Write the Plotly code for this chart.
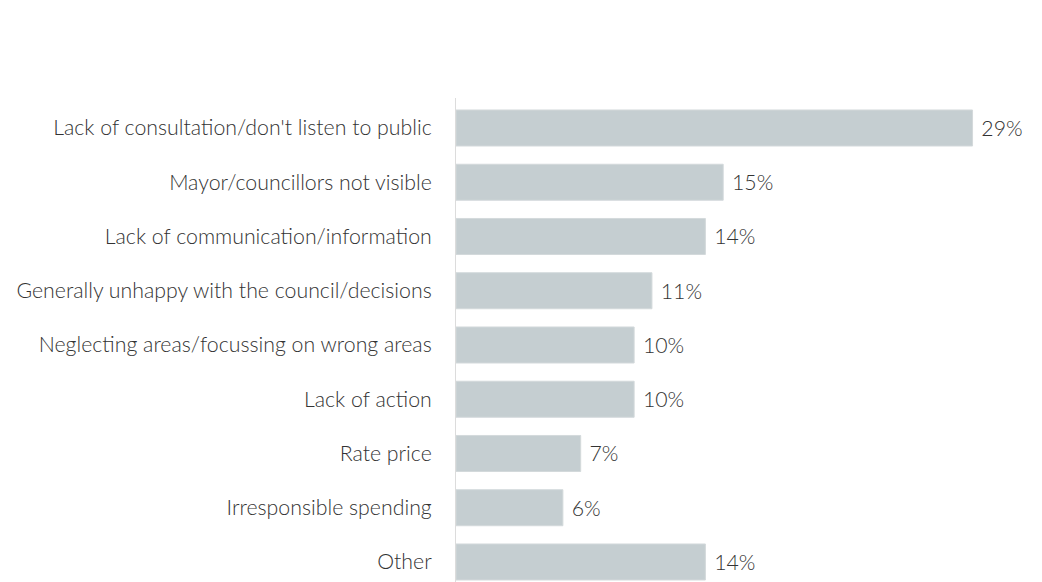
import plotly.graph_objects as go

categories = [
    "Lack of consultation/don't listen to public",
    "Mayor/councillors not visible",
    "Lack of communication/information",
    "Generally unhappy with the council/decisions",
    "Neglecting areas/focussing on wrong areas",
    "Lack of action",
    "Rate price",
    "Irresponsible spending",
    "Other",
]
values = [29, 15, 14, 11, 10, 10, 7, 6, 14]
value_labels = [f"{v}%" for v in values]

TEXT_FONT = dict(size=21.3, color="#333333", family="Lato", weight=300)

fig = go.Figure(
    go.Bar(
        x=values,
        y=categories,
        orientation="h",
        marker=dict(color="#c5ced1", line=dict(color="#d3d9db", width=1)),
        text=[" " + t for t in value_labels],
        textposition="outside",
        cliponaxis=False,
        textfont=TEXT_FONT,
        hoverinfo="skip",
    )
)

fig.update_layout(
    width=1042,
    height=582,
    margin=dict(l=456, r=16, t=98, b=0),
    paper_bgcolor="white",
    plot_bgcolor="white",
    bargap=0.336,
    showlegend=False,
    font=TEXT_FONT,
)
fig.update_xaxes(range=[0, 32], visible=False, showgrid=False, zeroline=False)
fig.update_yaxes(
    categoryorder="array",
    categoryarray=categories,
    range=[8.369, -0.553],
    showline=True,
    linecolor="#dcdcdc",
    linewidth=1,
    showgrid=False,
    ticks="",
    ticklabelstandoff=19,
    tickfont=TEXT_FONT,
)

fig.write_html("out.html")
